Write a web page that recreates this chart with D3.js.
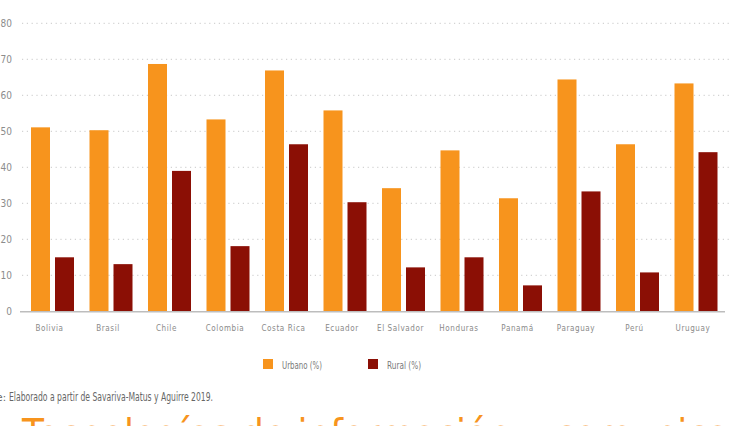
<!DOCTYPE html>
<html>
<head>
<meta charset="utf-8">
<script src="https://cdn.jsdelivr.net/npm/d3@7"></script>
<style>
  html, body { margin: 0; padding: 0; background: #fff; overflow: hidden; }
  svg { display: block; }
  text { font-family: "Liberation Sans Narrow", "DejaVu Sans Condensed", "Roboto", sans-serif; font-stretch: condensed; }
</style>
</head>
<body>
<svg id="chart" width="732" height="426"></svg>
<script>
const categories = ["Bolivia", "Brasil", "Chile", "Colombia", "Costa Rica", "Ecuador", "El Salvador", "Honduras", "Panamá", "Paraguay", "Perú", "Uruguay"];
const urbano = [51.1, 50.3, 68.7, 53.3, 66.9, 55.8, 34.2, 44.7, 31.4, 64.4, 46.4, 63.3];
const rural  = [15.0, 13.1, 39.0, 18.1, 46.4, 30.3, 12.2, 15.0, 7.2, 33.3, 10.8, 44.2];
const seriesNames = ["Urbano (%)", "Rural (%)"];
const yTicks = [0, 10, 20, 30, 40, 50, 60, 70, 80];
const sourceLabel = "Fuente:";
const sourceText = "Elaborado a partir de Savariva-Matus y Aguirre 2019.";
const headingText = "Tecnologías de información y comunicación en la ruralidad";

const colors = ["#F7941D", "#8B0F05"];
const svg = d3.select("#chart");

const x0 = d3.scaleBand().domain(categories).range([23.25, 725.25]).paddingInner(0.265).paddingOuter(0.1325);
const x1 = d3.scaleBand().domain(seriesNames).range([0, x0.bandwidth()]).paddingInner(5 / 24);
const y = d3.scaleLinear().domain([0, 80]).range([311.3, 23.3]);

// gridlines
svg.append("g").selectAll("line").data(yTicks.filter(d => d > 0)).join("line")
  .attr("x1", 22).attr("x2", 732)
  .attr("y1", d => y(d)).attr("y2", d => y(d))
  .attr("stroke", "#c8c8c8").attr("stroke-width", 1)
  .attr("stroke-dasharray", "1.2,3.6");

// y tick labels
svg.append("g").selectAll("text").data(yTicks).join("text")
  .attr("x", 12).attr("y", d => y(d)).attr("dy", "0.35em")
  .attr("text-anchor", "end")
  .attr("font-size", 10).attr("fill", "#8c8c8c")
  .text(d => d);

// bars
const data = categories.map((c, i) => ({ cat: c, vals: [urbano[i], rural[i]] }));
const groups = svg.append("g").selectAll("g").data(data).join("g")
  .attr("transform", d => `translate(${x0(d.cat)},0)`);
groups.selectAll("rect").data(d => d.vals.map((v, j) => ({ v, s: seriesNames[j], j }))).join("rect")
  .attr("x", d => x1(d.s)).attr("width", x1.bandwidth())
  .attr("y", d => y(d.v)).attr("height", d => y(0) - y(d.v))
  .attr("fill", d => colors[d.j]);

// baseline
svg.append("line").attr("x1", 20).attr("x2", 725).attr("y1", y(0) + 0.5).attr("y2", y(0) + 0.5)
  .attr("stroke", "#bdbdbd").attr("stroke-width", 1.5);

// category labels
svg.append("g").selectAll("text").data(categories).join("text")
  .attr("x", d => x0(d) + x0.bandwidth() / 2 - 3).attr("y", 331)
  .attr("text-anchor", "middle")
  .attr("font-size", 8).attr("letter-spacing", 0.6).attr("fill", "#8a8a8a")
  .text(d => d);

// legend
const legendX = [263, 368];
const legendW = [40, 34];
const leg = svg.append("g").selectAll("g").data(seriesNames).join("g")
  .attr("transform", (d, i) => `translate(${legendX[i]},359)`);
leg.append("rect").attr("width", 10).attr("height", 10).attr("fill", (d, i) => colors[i]);
leg.append("text").attr("x", 19).attr("y", 9.5)
  .attr("font-size", 11).attr("fill", "#7a7a7a")
  .attr("textLength", (d, i) => legendW[i]).attr("lengthAdjust", "spacingAndGlyphs")
  .text(d => d);

// source
svg.append("text").attr("x", 6).attr("y", 401).attr("text-anchor", "end")
  .attr("font-size", 11).attr("fill", "#666").text(sourceLabel);
svg.append("text").attr("x", 9).attr("y", 401)
  .attr("font-size", 11.5).attr("fill", "#666")
  .attr("textLength", 204).attr("lengthAdjust", "spacingAndGlyphs")
  .text(sourceText);

// heading (cut off by the page edge)
svg.append("text").attr("x", 22).attr("y", 448)
  .attr("font-size", 40).attr("fill", "#F7941D").text(headingText);
</script>
</body>
</html>
